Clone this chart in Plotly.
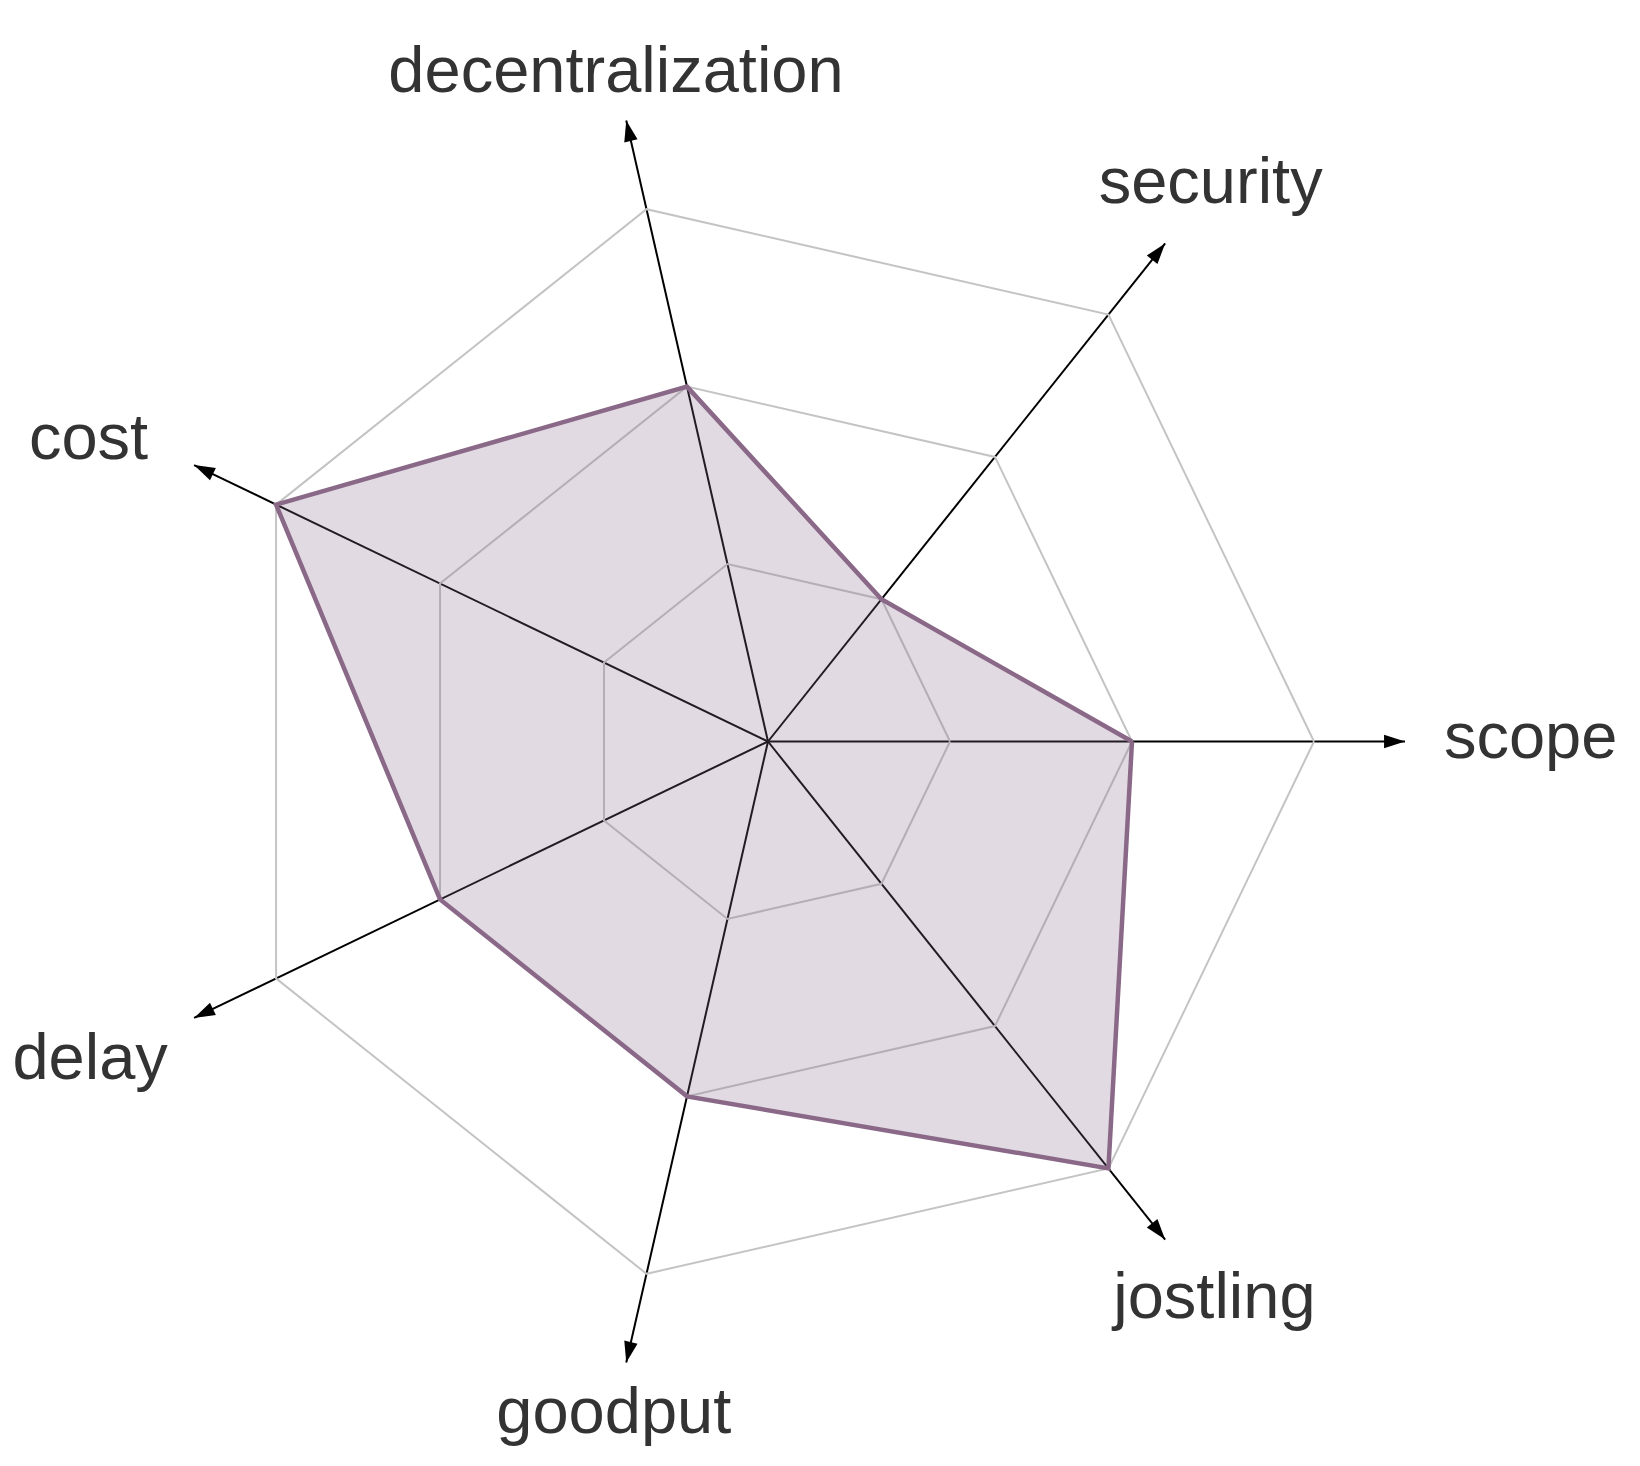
import plotly.graph_objects as go

categories = ["scope", "security", "decentralization", "cost", "delay", "goodput", "jostling"]
values = [2, 1, 2, 3, 2, 2, 3]
grid_levels = [1, 2, 3]
axis_max = 3.5

# label placement (style): radial anchor in axis units and text anchoring
label_radius = [3.714, 3.901, 3.753, 3.78, 3.66, 3.808, 3.934]
label_anchor = ["middle right", "middle center", "middle center", "middle left",
                "bottom left", "middle center", "middle center"]

n = len(categories)
step = 360.0 / n

fig = go.Figure()

fig.add_trace(go.Scatterpolar(
    r=values + values[:1],
    theta=categories + categories[:1],
    mode="lines",
    fill="toself",
    fillcolor="rgba(140,106,138,0.25)",
    line=dict(color="#8a6887", width=4.5),
    hoverinfo="skip",
    showlegend=False,
    subplot="polar",
))

# arrowheads at the end of each spoke
fig.add_trace(go.Scatterpolar(
    r=[axis_max] * n,
    theta=categories,
    mode="markers",
    marker=dict(symbol="arrow", size=22, color="black",
                angle=[90 - i * step for i in range(n)], line=dict(width=0)),
    cliponaxis=False,
    hoverinfo="skip",
    showlegend=False,
    subplot="polar",
))

# category labels on a concentric, invisible, larger polar frame
fig.add_trace(go.Scatterpolar(
    r=label_radius,
    theta=categories,
    mode="text",
    text=categories,
    textposition=label_anchor,
    textfont=dict(size=65, color="#333333", family="Liberation Sans, Arial, sans-serif"),
    cliponaxis=False,
    hoverinfo="skip",
    showlegend=False,
    subplot="polar2",
))

W, H = 1640, 1466
cx, cy = 760.0, 732.5          # centre, px from left / bottom
R1 = 637.0                      # px radius of main frame (= axis_max)
R2 = 725.0                      # px radius of label frame
unit = R1 / axis_max

fig.update_layout(
    width=W, height=H,
    margin=dict(l=0, r=0, t=0, b=0),
    paper_bgcolor="white",
    font=dict(family="Liberation Sans, Arial, sans-serif", color="#333333"),
    polar=dict(
        domain=dict(x=[(cx - R1) / W, (cx + R1) / W], y=[(cy - R1) / H, (cy + R1) / H]),
        bgcolor="rgba(0,0,0,0)",
        gridshape="linear",
        radialaxis=dict(
            range=[0, axis_max], tickvals=grid_levels, showticklabels=False,
            ticks="", showline=False, gridcolor="#c4c4c4", gridwidth=2,
            angle=0,
        ),
        angularaxis=dict(
            type="category", categoryarray=categories,
            rotation=0, direction="counterclockwise",
            showline=False, gridcolor="black", gridwidth=2.2,
            ticks="", showticklabels=False,
        ),
    ),
    polar2=dict(
        domain=dict(x=[(cx - R2) / W, (cx + R2) / W], y=[(cy - R2) / H, (cy + R2) / H]),
        bgcolor="rgba(0,0,0,0)",
        radialaxis=dict(range=[0, R2 / unit], visible=False, showgrid=False),
        angularaxis=dict(
            type="category", categoryarray=categories,
            rotation=0, direction="counterclockwise",
            visible=False, showgrid=False, showline=False, ticks="",
            showticklabels=False,
        ),
    ),
)

fig.write_html("out.html")
